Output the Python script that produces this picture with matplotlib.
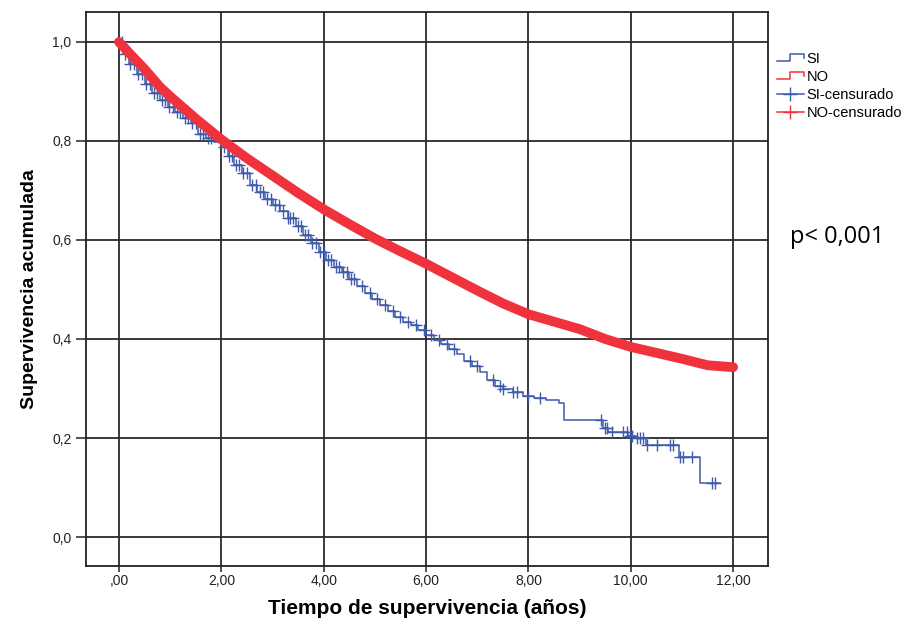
import numpy as np
import matplotlib
matplotlib.use("Agg")
import matplotlib.pyplot as plt
from matplotlib.lines import Line2D
from matplotlib.legend_handler import HandlerBase
from matplotlib.ticker import FixedLocator, FuncFormatter

# Grupo NO: curva de supervivencia (muy densa, se ve como banda)
no_time = [0, 0.25, 0.5, 0.8, 1.0, 1.5, 2.0, 2.5, 3.0, 3.5, 4.0, 4.5, 5.0, 5.5,
           6.0, 6.5, 7.0, 7.5, 8.0, 8.5, 9.0, 9.5, 10.0, 10.5, 11.0, 11.5, 12.0]
no_surv = [1.0, 0.972, 0.945, 0.909, 0.89, 0.845, 0.803, 0.765, 0.73, 0.695, 0.662,
           0.632, 0.603, 0.577, 0.552, 0.525, 0.498, 0.472, 0.45, 0.435, 0.42, 0.40,
           0.384, 0.372, 0.36, 0.347, 0.343]

# Grupo SI: Kaplan-Meier escalonada
si_time = [0, 0.08, 0.2, 0.35, 0.5, 0.65, 0.8, 0.95, 1.1, 1.25, 1.4, 1.55, 1.7, 1.85,
           2.0, 2.12, 2.25, 2.4, 2.55, 2.7, 2.85, 3.0, 3.15, 3.3, 3.45, 3.6, 3.75, 3.9,
           4.05, 4.2, 4.35, 4.5, 4.65, 4.8, 4.95, 5.1, 5.25, 5.4, 5.55, 5.7, 5.85, 6.0,
           6.15, 6.3, 6.45, 6.6, 6.75, 6.9, 7.05, 7.2, 7.35, 7.5, 7.7, 7.9, 8.1, 8.35,
           8.6, 8.7, 9.45, 9.55, 9.95, 10.1, 10.3, 10.95, 11.35, 11.75]
si_surv = [1.0, 0.975, 0.955, 0.935, 0.915, 0.897, 0.883, 0.868, 0.858, 0.847, 0.836,
           0.815, 0.805, 0.797, 0.787, 0.77, 0.752, 0.735, 0.712, 0.697, 0.683, 0.67,
           0.658, 0.645, 0.628, 0.61, 0.593, 0.575, 0.56, 0.545, 0.535, 0.522, 0.508,
           0.493, 0.48, 0.468, 0.457, 0.445, 0.435, 0.428, 0.418, 0.408, 0.398, 0.39,
           0.38, 0.37, 0.355, 0.345, 0.333, 0.318, 0.305, 0.298, 0.293, 0.285, 0.28,
           0.277, 0.27, 0.236, 0.22, 0.213, 0.205, 0.2, 0.186, 0.162, 0.109, 0.109]
si_cens = [0.05, 0.12, 0.22, 0.3, 0.38, 0.45, 0.53, 0.6, 0.68, 0.75, 0.83, 0.9, 0.98,
           1.05, 1.13, 1.2, 1.28, 1.35, 1.43, 1.5, 1.58, 1.65, 1.73, 1.8, 2.05, 2.15,
           2.2, 2.28, 2.35, 2.43, 2.5, 2.6, 2.68, 2.75, 2.82, 2.9, 2.97, 3.05, 3.12,
           3.2, 3.3, 3.35, 3.4, 3.5, 3.55, 3.63, 3.7, 3.78, 3.85, 3.93, 4.0, 4.08,
           4.15, 4.23, 4.3, 4.38, 4.45, 4.53, 4.6, 4.75, 4.9, 5.05, 5.2, 5.35, 5.5,
           5.65, 5.8, 5.95, 6.1, 6.25, 6.4, 6.55, 6.85, 7.0, 7.3, 7.45, 7.5, 7.7,
           7.78, 7.99, 8.22, 9.42, 9.5, 9.54, 9.63, 9.85, 9.92, 9.99, 10.03, 10.12,
           10.18, 10.24, 10.32, 10.51, 10.77, 10.83, 10.96, 11.02, 11.2, 11.59, 11.65]

x_ticks = [0, 2, 4, 6, 8, 10, 12]
y_ticks = [0.0, 0.2, 0.4, 0.6, 0.8, 1.0]

blue = "#3f5bab"
red = "#f0323c"


class StepHandler(HandlerBase):
    def create_artists(self, legend, orig_handle, xdescent, ydescent, width, height, fontsize, trans):
        xs = np.array([0, 0.5, 0.5, 1.0, 1.0]) * width - xdescent
        ys = np.array([0.15, 0.15, 0.85, 0.85, 0.45]) * height - ydescent
        ln = Line2D(xs, ys, color=orig_handle.get_color(), lw=1.1)
        ln.set_transform(trans)
        return [ln]


plt.rcParams['font.family'] = ['Liberation Sans', 'DejaVu Sans']

fig = plt.figure(figsize=(9.23, 6.26), dpi=100)
ax = fig.add_axes([0.0932, 0.0958, 0.7388, 0.8851])

ax.plot(no_time, no_surv, color=red, lw=7, solid_capstyle='round', zorder=4)
ax.step(si_time, si_surv, where='post', color=blue, lw=1.1, zorder=3)

si_t = np.array(si_time)
si_s = np.array(si_surv)
cens_y = si_s[np.searchsorted(si_t, si_cens, side='right') - 1]
ax.plot(si_cens, cens_y, ls='none', marker='+', ms=8, mew=1.0, color=blue, zorder=3)

ax.set_xlim(-0.645, 12.68)
ax.set_ylim(-0.0586, 1.0606)
ax.xaxis.set_major_locator(FixedLocator(x_ticks))
ax.yaxis.set_major_locator(FixedLocator(y_ticks))
ax.xaxis.set_major_formatter(FuncFormatter(lambda v, p: ",00" if v == 0 else f"{v:.2f}".replace(".", ",")))
ax.yaxis.set_major_formatter(FuncFormatter(lambda v, p: f"{v:.1f}".replace(".", ",")))
ax.grid(True, color="#2a2a2a", lw=1.3)
ax.set_axisbelow(True)
for s in ax.spines.values():
    s.set_linewidth(1.3)
    s.set_color("#222222")
ax.tick_params(axis='y', direction='out', length=7, width=1.1, labelsize=10, colors="#222222")
ax.tick_params(axis='x', direction='out', length=4, width=1.1, labelsize=10, colors="#222222", pad=2)

ax.set_xlabel("Tiempo de supervivencia (años)", fontsize=15, fontweight='bold', labelpad=8)
ax.set_ylabel("Supervivencia acumulada", fontsize=14, fontweight='bold', labelpad=10)

handles = [Line2D([], [], color=blue), Line2D([], [], color=red),
           Line2D([], [], color=blue, marker='+', ms=10, lw=1.1),
           Line2D([], [], color=red, marker='+', ms=10, lw=1.1)]
labels = ["SI", "NO", "SI-censurado", "NO-censurado"]
fig.legend(handles, labels, loc='upper left', bbox_to_anchor=(0.835, 0.927),
           frameon=False, fontsize=10.5, handlelength=1.9, handletextpad=0.15,
           labelspacing=0.28, borderaxespad=0,
           handler_map={handles[0]: StepHandler(), handles[1]: StepHandler()})

fig.text(0.856, 0.612, "p< 0,001", fontsize=17, family=['Open Sans', 'DejaVu Sans'])

fig.savefig("out.png", dpi=100)
